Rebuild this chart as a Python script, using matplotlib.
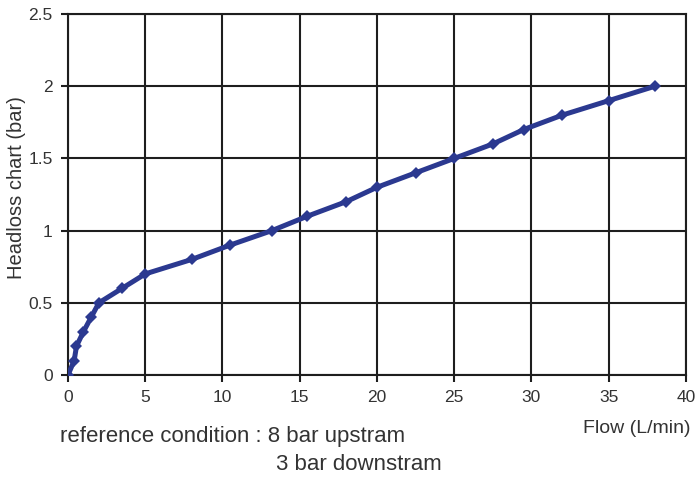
import matplotlib
matplotlib.use('Agg')
import matplotlib.pyplot as plt

# values
flow = [0, 0.4, 0.55, 1.0, 1.5, 2.0, 3.5, 5.0, 8.0, 10.5, 13.2, 15.5, 18.0,
        20.0, 22.5, 25.0, 27.5, 29.5, 32.0, 35.0, 38.0]
headloss = [0, 0.1, 0.2, 0.3, 0.4, 0.5, 0.6, 0.7, 0.8, 0.9, 1.0, 1.1, 1.2,
            1.3, 1.4, 1.5, 1.6, 1.7, 1.8, 1.9, 2.0]

x_ticks = [0, 5, 10, 15, 20, 25, 30, 35, 40]
y_ticks = [0, 0.5, 1, 1.5, 2, 2.5]
y_tick_labels = ['0', '0.5', '1', '1.5', '2', '2.5']

LINE_COLOR = '#2b3990'
GRID_COLOR = '#1e1e1e'
TEXT_COLOR = '#333333'

plt.rcParams['font.family'] = ['Liberation Sans', 'DejaVu Sans']

fig = plt.figure(figsize=(6.96, 4.80), dpi=100)
ax = fig.add_axes([0.0977, 0.21875, 0.8879, 0.7521])

ax.plot(flow, headloss, color=LINE_COLOR, linewidth=3.6, marker='D',
        markersize=6.5, markeredgewidth=0, solid_capstyle='round', zorder=3)

ax.set_xlim(0, 40)
ax.set_ylim(0, 2.5)
ax.set_xticks(x_ticks)
ax.set_yticks(y_ticks)
ax.set_yticklabels(y_tick_labels)

ax.grid(True, color=GRID_COLOR, linewidth=1.5)
ax.set_axisbelow(True)
for side in ax.spines.values():
    side.set_color(GRID_COLOR)
    side.set_linewidth(1.5)

ax.tick_params(direction='out', length=5, width=1.5, color=GRID_COLOR,
               labelsize=12.5, labelcolor=TEXT_COLOR, pad=6)

fig.text(0.024, 0.61, 'Headloss chart (bar)', rotation=90, fontsize=14.5,
         color=TEXT_COLOR, ha='center', va='center')
fig.text(0.992, 0.108, 'Flow (L/min)', fontsize=14, color=TEXT_COLOR,
         ha='right', va='center')
fig.text(0.086, 0.09, 'reference condition : 8 bar upstram', fontsize=16,
         color=TEXT_COLOR, ha='left', va='center')
fig.text(0.397, 0.032, '3 bar downstram', fontsize=16, color=TEXT_COLOR,
         ha='left', va='center')

fig.savefig('out.png', dpi=100)
